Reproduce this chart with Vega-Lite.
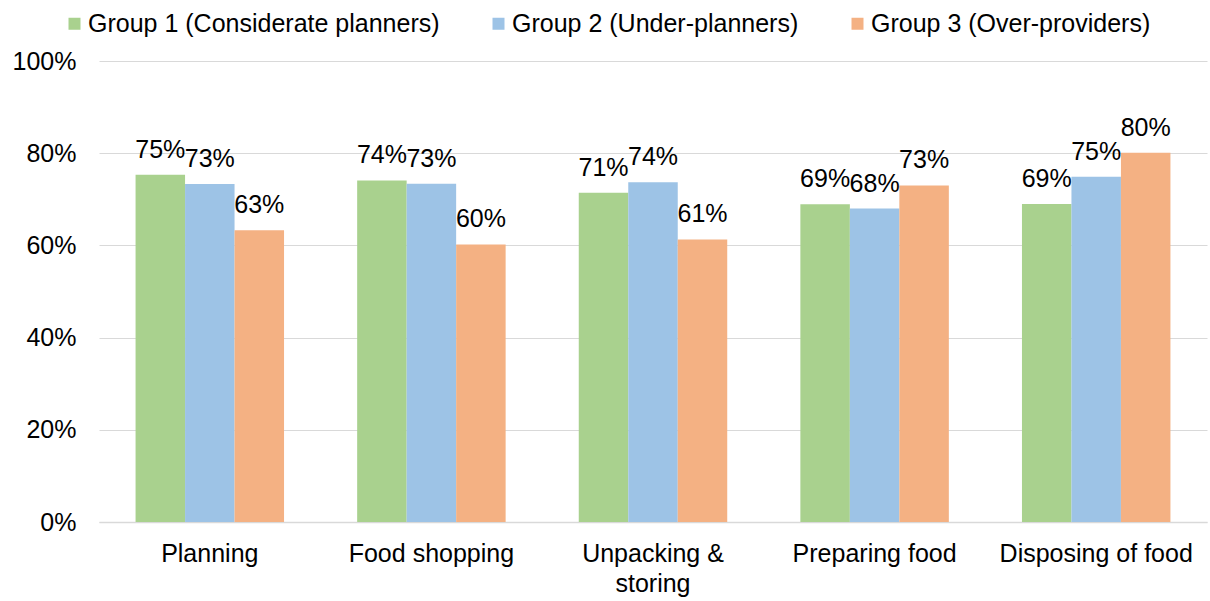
{
  "$schema": "https://vega.github.io/schema/vega-lite/v6.json",
  "autosize": {"type": "none"},
  "padding": {"left": 99, "top": 61, "right": 3, "bottom": 79},
  "width": 1108,
  "height": 461,
  "background": "white",
  "config": {
    "view": {"stroke": null},
    "font": "Liberation Sans",
    "text": {"font": "Liberation Sans"}
  },
  "data": {
    "values": [
      {"activity": "Planning", "group": "Group 1 (Considerate planners)", "value": 0.753},
      {"activity": "Planning", "group": "Group 2 (Under-planners)", "value": 0.733},
      {"activity": "Planning", "group": "Group 3 (Over-providers)", "value": 0.633},
      {"activity": "Food shopping", "group": "Group 1 (Considerate planners)", "value": 0.741},
      {"activity": "Food shopping", "group": "Group 2 (Under-planners)", "value": 0.734},
      {"activity": "Food shopping", "group": "Group 3 (Over-providers)", "value": 0.602},
      {"activity": "Unpacking & storing", "group": "Group 1 (Considerate planners)", "value": 0.714},
      {"activity": "Unpacking & storing", "group": "Group 2 (Under-planners)", "value": 0.737},
      {"activity": "Unpacking & storing", "group": "Group 3 (Over-providers)", "value": 0.613},
      {"activity": "Preparing food", "group": "Group 1 (Considerate planners)", "value": 0.689},
      {"activity": "Preparing food", "group": "Group 2 (Under-planners)", "value": 0.680},
      {"activity": "Preparing food", "group": "Group 3 (Over-providers)", "value": 0.730},
      {"activity": "Disposing of food", "group": "Group 1 (Considerate planners)", "value": 0.690},
      {"activity": "Disposing of food", "group": "Group 2 (Under-planners)", "value": 0.749},
      {"activity": "Disposing of food", "group": "Group 3 (Over-providers)", "value": 0.801}
    ]
  },
  "encoding": {
    "x": {
      "field": "activity",
      "type": "nominal",
      "sort": ["Planning", "Food shopping", "Unpacking & storing", "Preparing food", "Disposing of food"],
      "scale": {"paddingInner": 0.33, "paddingOuter": 0.165},
      "axis": {
        "title": null,
        "labelAngle": 0,
        "labelFontSize": 25,
        "labelColor": "#000000",
        "labelPadding": 19,
        "labelLineHeight": 30,
        "labelLimit": 0,
        "ticks": false,
        "tickSize": 0,
        "domainColor": "#d9d9d9",
        "domainWidth": 1.5,
        "grid": false,
        "labelExpr": "datum.label == 'Unpacking & storing' ? ['Unpacking &', 'storing'] : datum.label"
      }
    },
    "xOffset": {
      "field": "group",
      "type": "nominal",
      "sort": ["Group 1 (Considerate planners)", "Group 2 (Under-planners)", "Group 3 (Over-providers)"],
      "scale": {"paddingInner": 0, "paddingOuter": 0}
    },
    "y": {
      "field": "value",
      "type": "quantitative",
      "scale": {"domain": [0, 1], "nice": false},
      "axis": {
        "title": null,
        "values": [0, 0.2, 0.4, 0.6, 0.8, 1],
        "format": ".0%",
        "labelFontSize": 25,
        "labelColor": "#000000",
        "labelPadding": 23,
        "ticks": false,
        "tickSize": 0,
        "domain": false,
        "gridColor": "#d9d9d9",
        "gridWidth": 1
      }
    }
  },
  "layer": [
    {
      "mark": {"type": "bar"},
      "encoding": {
        "color": {
          "field": "group",
          "type": "nominal",
          "sort": ["Group 1 (Considerate planners)", "Group 2 (Under-planners)", "Group 3 (Over-providers)"],
          "scale": {
            "domain": ["Group 1 (Considerate planners)", "Group 2 (Under-planners)", "Group 3 (Over-providers)"],
            "range": ["#a9d18e", "#9dc3e6", "#f4b183"]
          },
          "legend": {
            "title": null,
            "orient": "none",
            "direction": "horizontal",
            "legendX": -37,
            "legendY": -50,
            "symbolType": "square",
            "symbolSize": 144,
            "symbolStrokeWidth": 0,
            "labelFontSize": 25,
            "labelColor": "#000000",
            "labelOffset": 1,
            "labelLimit": 0,
            "columnPadding": 46,
            "padding": 0
          }
        }
      }
    },
    {
      "mark": {"type": "text", "baseline": "alphabetic", "align": "center", "dy": -17, "fontSize": 25, "color": "#000000"},
      "encoding": {
        "text": {"field": "value", "type": "quantitative", "format": ".0%"}
      }
    }
  ]
}
